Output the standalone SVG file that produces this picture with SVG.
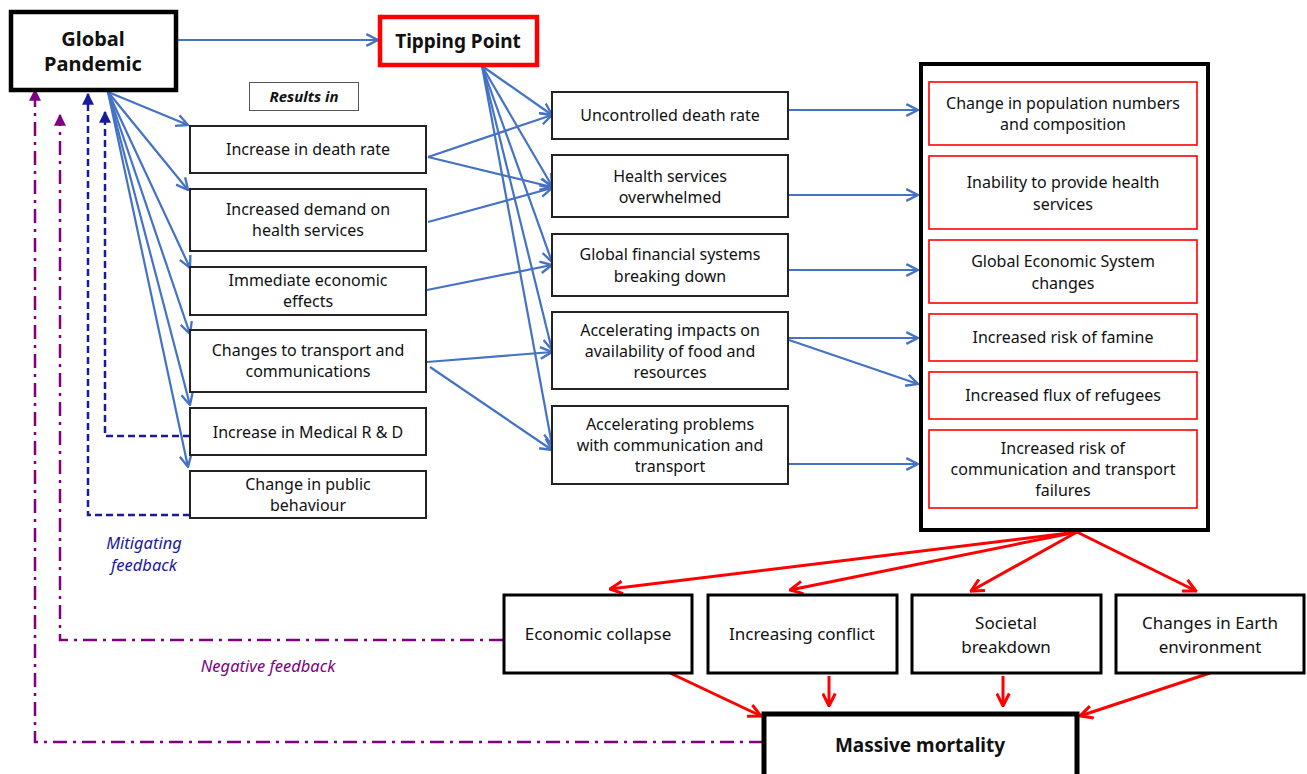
<svg xmlns="http://www.w3.org/2000/svg" width="1307" height="774" viewBox="0 0 1307 774">
<defs>
<style>
text{font-family:"Noto Sans","DejaVu Sans",sans-serif;fill:#111;text-anchor:middle}
.t{font-size:16px}
.b{font-size:17px}
.h{font-size:19px;font-weight:bold}
.box{fill:#fff;stroke:#222;stroke-width:2}
.rbox{fill:#fff;stroke:#f00;stroke-width:1.6}
.bbox{fill:#fff;stroke:#000;stroke-width:3}
.fb{font-size:16.5px;font-style:italic}
.blue{stroke:#4472C4;stroke-width:2.2;fill:none;marker-end:url(#ab)}
.red{stroke:#f00;stroke-width:3;fill:none;marker-end:url(#ar)}
.navy{stroke:#1a1a9c;stroke-width:2.5;fill:none;stroke-dasharray:7,4;marker-end:url(#an)}
.purp{stroke:#800080;stroke-width:2.5;fill:none;stroke-dasharray:14,6,3,6;marker-end:url(#ap)}
</style>
<marker id="ab" viewBox="0 0 12 12" refX="11" refY="6" markerWidth="14" markerHeight="14" markerUnits="userSpaceOnUse" orient="auto"><path d="M1,1 L11,6 L1,11" fill="none" stroke="#4472C4" stroke-width="2"/></marker>
<marker id="ar" viewBox="0 0 12 12" refX="11" refY="6" markerWidth="15" markerHeight="15" markerUnits="userSpaceOnUse" orient="auto"><path d="M1,1 L11,6 L1,11" fill="none" stroke="#f00" stroke-width="2.4"/></marker>
<marker id="an" viewBox="0 0 10 10" refX="9" refY="5" markerWidth="12" markerHeight="12" markerUnits="userSpaceOnUse" orient="auto"><path d="M0,0 L10,5 L0,10 z" fill="#1a1a9c"/></marker>
<marker id="ap" viewBox="0 0 10 10" refX="9" refY="5" markerWidth="12" markerHeight="12" markerUnits="userSpaceOnUse" orient="auto"><path d="M0,0 L10,5 L0,10 z" fill="#800080"/></marker>
</defs>
<rect width="1307" height="774" fill="#fff"/>

<g id="connectors">
<path class="blue" d="M177,40 L378,40"/>
<path class="blue" d="M108,92 L188,125"/>
<path class="blue" d="M108,92 L188,190"/>
<path class="blue" d="M108,92 L190,268"/>
<path class="blue" d="M108,92 L190,334"/>
<path class="blue" d="M108,92 L190,405"/>
<path class="blue" d="M108,92 L188,467"/>
<path class="blue" d="M482,66 L552,115"/>
<path class="blue" d="M482,66 L552,186"/>
<path class="blue" d="M482,66 L552,262"/>
<path class="blue" d="M482,66 L552,350"/>
<path class="blue" d="M482,66 L552,445"/>
<path class="blue" d="M428,157 L552,115"/>
<path class="blue" d="M428,157 L552,187"/>
<path class="blue" d="M428,222 L552,188"/>
<path class="blue" d="M427,290 L552,265"/>
<path class="blue" d="M427,362 L552,352"/>
<path class="blue" d="M430,367 L552,450"/>
<path class="blue" d="M789,110 L918,110"/>
<path class="blue" d="M789,195 L918,195"/>
<path class="blue" d="M789,270 L918,270"/>
<path class="blue" d="M789,338 L918,338"/>
<path class="blue" d="M789,340 L918,384"/>
<path class="blue" d="M789,464 L918,464"/>
<path class="red" d="M1077,532 L610,589"/>
<path class="red" d="M1077,532 L790,590"/>
<path class="red" d="M1077,532 L971,591"/>
<path class="red" d="M1077,532 L1196,591"/>
<path class="red" d="M670,673 L761,716"/>
<path class="red" d="M829,676 L829,706"/>
<path class="red" d="M1003,676 L1003,706"/>
<path class="red" d="M1210,673 L1080,716"/>
<path class="navy" d="M190,436 H105 V112"/>
<path class="navy" d="M190,515 H88 V94"/>
<path class="purp" d="M503,640 H60 V115"/>
<path class="purp" d="M763,742 H35 V90"/>
</g>

<g id="global-pandemic"><rect x="11" y="12" width="165" height="78" fill="#fff" stroke="#000" stroke-width="4.5"/><text class="h" x="93" y="46" style="font-size:20px">Global</text><text class="h" x="93" y="71" style="font-size:20px">Pandemic</text></g>
<g id="tipping-point"><rect x="380" y="17" width="157" height="48" fill="#fff" stroke="#f00" stroke-width="4.5"/><text class="h" x="458" y="48">Tipping Point</text></g>
<g id="results-in"><rect x="249.5" y="82.5" width="109" height="28" fill="#fff" stroke="#555" stroke-width="1"/><text x="304" y="102" style="font-size:15px;font-style:italic;font-weight:bold">Results in</text></g>

<g id="l1"><rect class="box" x="190" y="126" width="236" height="47"/><text class="t" x="308" y="155">Increase in death rate</text></g>
<g id="l2"><rect class="box" x="190" y="189" width="236" height="62"/><text class="t" x="308" y="215">Increased demand on</text><text class="t" x="308" y="236">health services</text></g>
<g id="l3"><rect class="box" x="190" y="267" width="236" height="48"/><text class="t" x="308" y="286">Immediate economic</text><text class="t" x="308" y="307">effects</text></g>
<g id="l4"><rect class="box" x="190" y="330" width="236" height="62"/><text class="t" x="308" y="356">Changes to transport and</text><text class="t" x="308" y="377">communications</text></g>
<g id="l5"><rect class="box" x="190" y="408" width="236" height="47"/><text class="t" x="308" y="438">Increase in Medical R &amp; D</text></g>
<g id="l6"><rect class="box" x="190" y="471" width="236" height="47"/><text class="t" x="308" y="490">Change in public</text><text class="t" x="308" y="511">behaviour</text></g>

<g id="m1"><rect class="box" x="552" y="92" width="236" height="47"/><text class="t" x="670" y="121">Uncontrolled death rate</text></g>
<g id="m2"><rect class="box" x="552" y="155" width="236" height="62"/><text class="t" x="670" y="182">Health services</text><text class="t" x="670" y="203">overwhelmed</text></g>
<g id="m3"><rect class="box" x="552" y="234" width="236" height="62"/><text class="t" x="670" y="260">Global financial systems</text><text class="t" x="670" y="282">breaking down</text></g>
<g id="m4"><rect class="box" x="552" y="312" width="236" height="77"/><text class="t" x="670" y="336">Accelerating impacts on</text><text class="t" x="670" y="357">availability of food and</text><text class="t" x="670" y="378">resources</text></g>
<g id="m5"><rect class="box" x="552" y="406" width="236" height="78"/><text class="t" x="670" y="430">Accelerating problems</text><text class="t" x="670" y="451">with communication and</text><text class="t" x="670" y="472">transport</text></g>

<g id="outcomes"><rect x="921" y="64" width="287" height="466" fill="#fff" stroke="#000" stroke-width="4"/>
<g id="r1"><rect class="rbox" x="929" y="82" width="268" height="63"/><text class="t" x="1063" y="109">Change in population numbers</text><text class="t" x="1063" y="130">and composition</text></g>
<g id="r2"><rect class="rbox" x="929" y="156" width="268" height="73"/><text class="t" x="1063" y="188">Inability to provide health</text><text class="t" x="1063" y="210">services</text></g>
<g id="r3"><rect class="rbox" x="929" y="240" width="268" height="63"/><text class="t" x="1063" y="267">Global Economic System</text><text class="t" x="1063" y="289">changes</text></g>
<g id="r4"><rect class="rbox" x="929" y="314" width="268" height="47"/><text class="t" x="1063" y="343">Increased risk of famine</text></g>
<g id="r5"><rect class="rbox" x="929" y="372" width="268" height="47"/><text class="t" x="1063" y="401">Increased flux of refugees</text></g>
<g id="r6"><rect class="rbox" x="929" y="430" width="268" height="78"/><text class="t" x="1063" y="454">Increased risk of</text><text class="t" x="1063" y="475">communication and transport</text><text class="t" x="1063" y="496">failures</text></g>
</g>

<g id="economic-collapse"><rect class="bbox" x="504" y="595" width="188" height="78"/><text class="b" x="598" y="640">Economic collapse</text></g>
<g id="increasing-conflict"><rect class="bbox" x="708" y="595" width="189" height="78"/><text class="b" x="802" y="640">Increasing conflict</text></g>
<g id="societal-breakdown"><rect class="bbox" x="912" y="595" width="189" height="78"/><text class="b" x="1006" y="629">Societal</text><text class="b" x="1006" y="653">breakdown</text></g>
<g id="earth-environment"><rect class="bbox" x="1116" y="595" width="188" height="78"/><text class="b" x="1210" y="629">Changes in Earth</text><text class="b" x="1210" y="653">environment</text></g>
<g id="massive-mortality"><rect x="764" y="714" width="313" height="70" fill="#fff" stroke="#000" stroke-width="5"/><text class="h" x="920" y="752">Massive mortality</text></g>

<text class="fb" x="144" y="549" style="fill:#1a1a9c">Mitigating</text>
<text class="fb" x="144" y="571" style="fill:#1a1a9c">feedback</text>
<text class="fb" x="268" y="672" style="fill:#800080">Negative feedback</text>
</svg>
